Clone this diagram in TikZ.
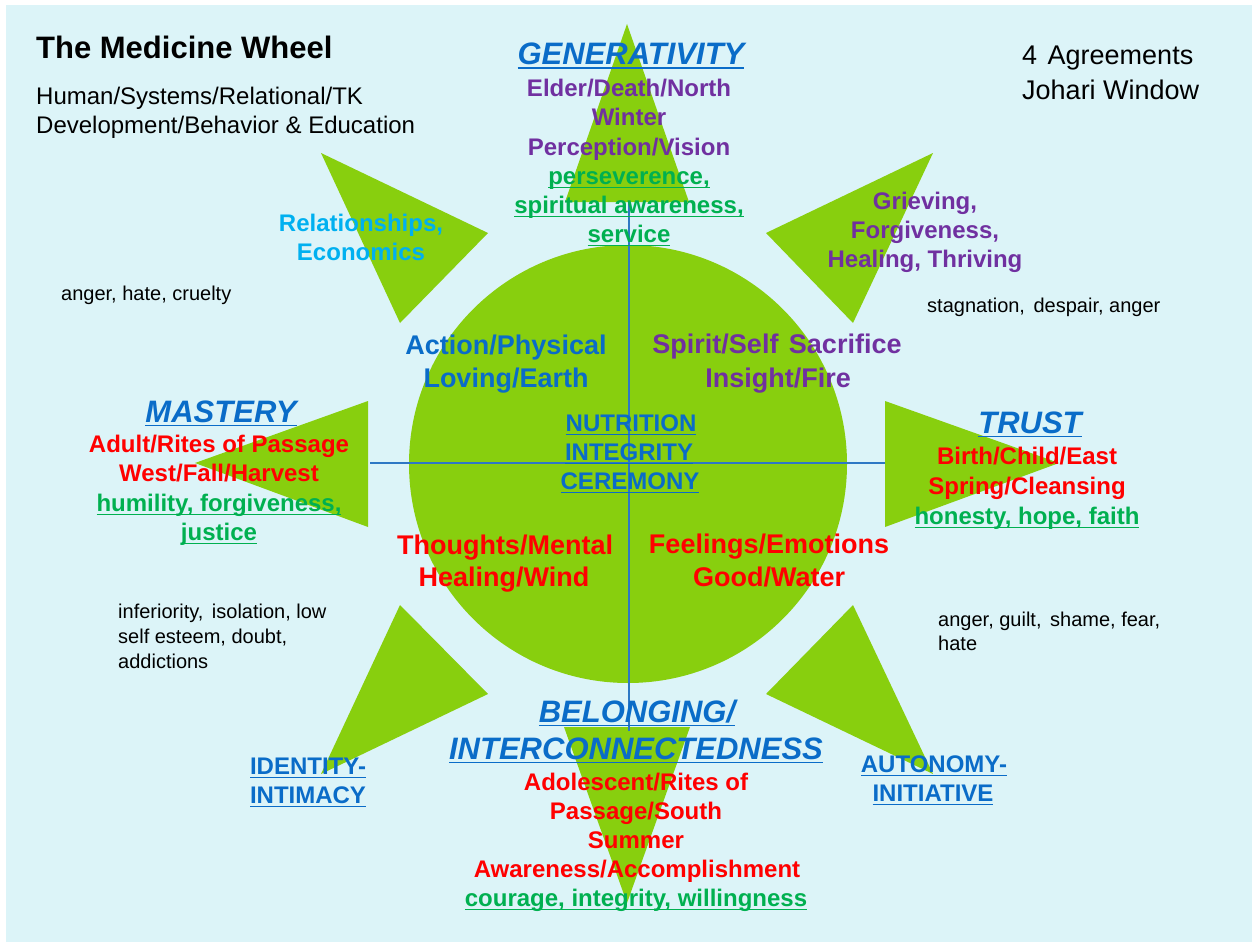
\documentclass[tikz,border=0pt]{standalone}
\usepackage{fontspec}
\setmainfont{Liberation Sans}
\newcommand{\myul}[1]{\setbox0\hbox{#1}\rlap{\rule[-3.8pt]{\wd0}{1.3pt}}\box0}
\newcommand{\gap}{\ \hspace{3pt}}
\definecolor{bgc}{HTML}{DCF4F8}
\definecolor{leaf}{HTML}{88CF0E}
\definecolor{hblue}{HTML}{0A6CC8}
\definecolor{ppl}{HTML}{7030A0}
\definecolor{rd}{HTML}{FF0000}
\definecolor{gtx}{HTML}{00B050}
\definecolor{lbl}{HTML}{00B0F0}
\definecolor{axc}{HTML}{2E78C4}
\tikzset{
  leafshape/.style={fill=leaf},
  axisline/.style={draw=axc, line width=1.4pt},
  bt/.style={inner sep=0pt, anchor=base, font=\bfseries\fontsize{24}{29}\selectfont},
  qt/.style={inner sep=0pt, anchor=base, font=\bfseries\fontsize{27}{32}\selectfont},
  hd/.style={inner sep=0pt, anchor=base, text=hblue, font=\bfseries\itshape\fontsize{31}{36}\selectfont},
  sm/.style={inner sep=0pt, anchor=base west, font=\fontsize{20}{25}\selectfont},
  md/.style={inner sep=0pt, anchor=base west, font=\fontsize{24}{29}\selectfont},
  lg/.style={inner sep=0pt, anchor=base west, font=\fontsize{27}{32}\selectfont},
  ttl/.style={inner sep=0pt, anchor=base west, font=\bfseries\fontsize{31}{36}\selectfont},
}
\begin{document}
\begin{tikzpicture}[x=1pt,y=-1pt]
\useasboundingbox (0,0) rectangle (1252,942);
\fill[white] (0,0) rectangle (1252,942);
\fill[bgc] (6,5) rectangle (1252,942);

% rays
\fill[leafshape] (627,24) -- (565,202) -- (689,202) -- cycle;
\fill[leafshape] (627,903) -- (564,727) -- (690,727) -- cycle;
\fill[leafshape] (195,463) -- (368,401) -- (368,527) -- cycle;
\fill[leafshape] (1059,463) -- (885,401) -- (885,527) -- cycle;
\fill[leafshape] (321,153) -- (488,233) -- (400,323) -- cycle;
\fill[leafshape] (933,153) -- (766,233) -- (853,323) -- cycle;
\fill[leafshape] (321,774) -- (488,694) -- (400,605) -- cycle;
\fill[leafshape] (933,774) -- (766,694) -- (853,605) -- cycle;

% wheel
\fill[leafshape] (628,464) circle[radius=219pt];

% axes
\coordinate (vt) at (629,202);
\coordinate (vb) at (629,731);
\coordinate (hl) at (370,463);
\coordinate (hr) at (885,463);
\draw[axisline] (vt) -- (vb);
\draw[axisline] (hl) -- (hr);

% title block
\node[ttl] (title) at (36,59) {The Medicine Wheel};
\node[md] (sub1) at (36,104) {Human/Systems/Relational/TK};
\node[md] (sub2) at (36,133) {Development/Behavior \& Education};
\node[lg] (agr) at (1022,65) {4\gap Agreements};
\node[lg] (joh) at (1022,99) {Johari Window};

% north
\node[hd] (gen) at (631,65) {\myul{GENERATIVITY}};
\node[bt, text=ppl] (n1) at (629,96) {Elder/Death/North};
\node[bt, text=ppl] (n2) at (629,125) {Winter};
\node[bt, text=ppl] (n3) at (629,155) {Perception/Vision};
\node[bt, text=gtx] (n4) at (629,184) {\myul{perseverence,}};
\node[bt, text=gtx] (n5) at (629,213) {\myul{spiritual awareness,}};
\node[bt, text=gtx] (n6) at (629,242) {\myul{service}};

% north-west / north-east
\node[bt, text=lbl] (rel1) at (361,231) {Relationships,};
\node[bt, text=lbl] (rel2) at (361,260) {Economics};
\node[bt, text=ppl] (gr1) at (925,209) {Grieving,};
\node[bt, text=ppl] (gr2) at (925,238) {Forgiveness,};
\node[bt, text=ppl] (gr3) at (925,267) {Healing, Thriving};

% shadow words
\node[sm] (s1) at (61,300) {anger, hate, cruelty};
\node[sm] (s2) at (927,312) {stagnation,\gap despair, anger};
\node[sm] (s3) at (118,618) {inferiority,\gap isolation, low};
\node[sm] (s4) at (118,643) {self esteem, doubt,};
\node[sm] (s5) at (118,668) {addictions};
\node[sm] (s6) at (938,626) {anger, guilt,\gap shame, fear,};
\node[sm] (s7) at (938,650) {hate};

% quadrants
\node[qt, text=hblue] (q1) at (506,354) {Action/Physical};
\node[qt, text=hblue] (q2) at (506,387) {Loving/Earth};
\node[qt, text=ppl] (q3) at (777,353) {Spirit/Self\gap Sacrifice};
\node[qt, text=ppl] (q4) at (778,387) {Insight/Fire};
\node[qt, text=rd] (q5) at (505,554) {Thoughts/Mental};
\node[qt, text=rd] (q6) at (504,586) {Healing/Wind};
\node[qt, text=rd] (q7) at (769,553) {Feelings/Emotions};
\node[qt, text=rd] (q8) at (769,586) {Good/Water};

% centre
\node[bt, text=hblue] (c1) at (631,431) {\myul{NUTRITION}};
\node[bt, text=hblue] (c2) at (629,460) {\myul{INTEGRITY}};
\node[bt, text=hblue] (c3) at (630,489) {\myul{CEREMONY}};

% west
\node[hd] (mas) at (221,422) {\myul{MASTERY}};
\node[bt, text=rd] (w1) at (219,452) {Adult/Rites of Passage};
\node[bt, text=rd] (w2) at (219,481) {West/Fall/Harvest};
\node[bt, text=gtx] (w3) at (219,511) {\myul{humility, forgiveness,}};
\node[bt, text=gtx] (w4) at (219,540) {\myul{justice}};

% east
\node[hd] (tru) at (1030,433) {\myul{TRUST}};
\node[bt, text=rd] (e1) at (1027,464) {Birth/Child/East};
\node[bt, text=rd] (e2) at (1027,494) {Spring/Cleansing};
\node[bt, text=gtx] (e3) at (1027,524) {\myul{honesty, hope, faith}};

% south
\node[hd] (bel1) at (637,722) {\myul{BELONGING/}};
\node[hd] (bel2) at (636,759) {\myul{INTERCONNECTEDNESS}};
\node[bt, text=rd] (so1) at (636,790) {Adolescent/Rites of};
\node[bt, text=rd] (so2) at (636,819) {Passage/South};
\node[bt, text=rd] (so3) at (636,848) {Summer};
\node[bt, text=rd] (so4) at (637,877) {Awareness/Accomplishment};
\node[bt, text=gtx] (so5) at (636,906) {\myul{courage, integrity, willingness}};

% south-west / south-east
\node[bt, text=hblue] (id1) at (308,774) {\myul{IDENTITY-}};
\node[bt, text=hblue] (id2) at (308,803) {\myul{INTIMACY}};
\node[bt, text=hblue] (au1) at (934,772) {\myul{AUTONOMY-}};
\node[bt, text=hblue] (au2) at (933,801) {\myul{INITIATIVE}};
\end{tikzpicture}
\end{document}
